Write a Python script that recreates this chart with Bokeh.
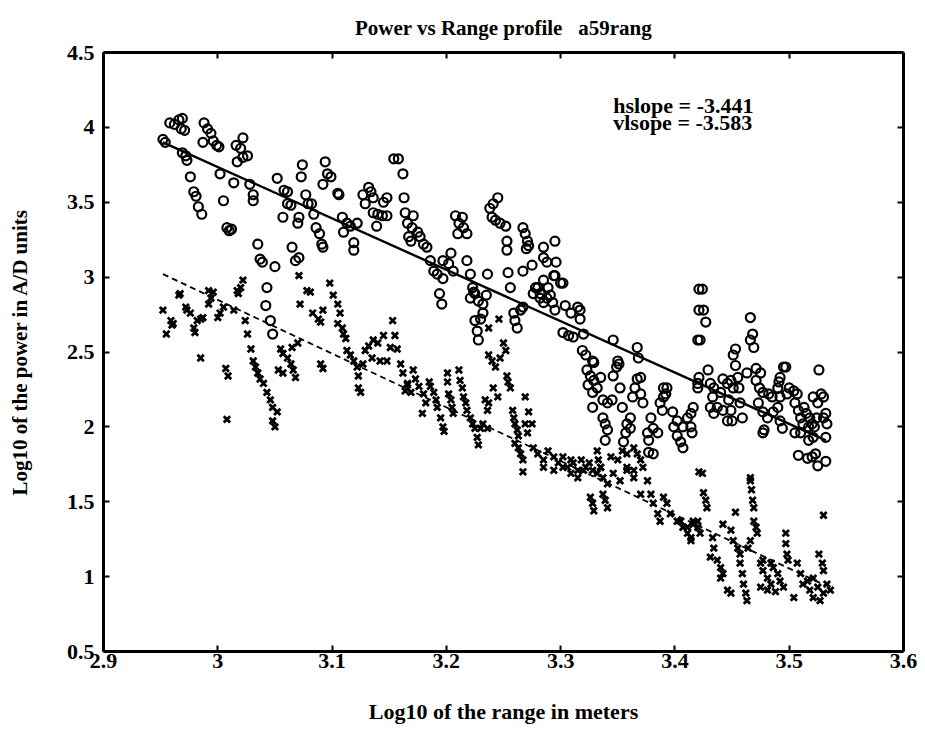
from bokeh.plotting import figure
from bokeh.models import Range1d, FixedTicker, LinearAxis, Label
from bokeh.embed import file_html
from bokeh.resources import INLINE

# ---------------- data ----------------
x_ticks = [2.9, 3.0, 3.1, 3.2, 3.3, 3.4, 3.5, 3.6]
x_tick_labels = ["2.9", "3", "3.1", "3.2", "3.3", "3.4", "3.5", "3.6"]
y_ticks = [0.5, 1.0, 1.5, 2.0, 2.5, 3.0, 3.5, 4.0, 4.5]
y_tick_labels = ["0.5", "1", "1.5", "2", "2.5", "3", "3.5", "4", "4.5"]

# horizontal-polarisation power (circles)
h_points = [
    (2.952, 3.92), (2.954, 3.90), (2.958, 4.03), (2.962, 4.02), (2.966, 4.05), (2.969, 4.06), (2.971, 3.98), (2.968, 3.99),
    (2.969, 3.83), (2.972, 3.81), (2.973, 3.78), (2.976, 3.67), (2.979, 3.57), (2.981, 3.54), (2.983, 3.47), (2.986, 3.42),
    (2.988, 4.03), (2.991, 3.99), (2.994, 3.96), (2.987, 3.90), (2.996, 3.91), (2.999, 3.88), (3.001, 3.87), (3.002, 3.69),
    (3.005, 3.51), (3.008, 3.33), (3.010, 3.31), (3.012, 3.32), (3.014, 3.63), (3.016, 3.88), (3.020, 3.86), (3.022, 3.93),
    (3.017, 3.77), (3.022, 3.80), (3.026, 3.81), (3.028, 3.62), (3.031, 3.55), (3.031, 3.51), (3.035, 3.22), (3.037, 3.12),
    (3.039, 3.10), (3.050, 3.07), (3.052, 3.66), (3.057, 3.40), (3.058, 3.58), (3.061, 3.57), (3.061, 3.49), (3.064, 3.48),
    (3.065, 3.20), (3.068, 3.11), (3.071, 3.13), (3.073, 3.67), (3.074, 3.75), (3.071, 3.40), (3.070, 3.36), (3.077, 3.55),
    (3.079, 3.49), (3.082, 3.49), (3.084, 3.42), (3.086, 3.33), (3.089, 3.29), (3.091, 3.22), (3.092, 3.20), (3.094, 3.77),
    (3.096, 3.69), (3.099, 3.67), (3.092, 3.62), (3.105, 3.56), (3.106, 3.55), (3.109, 3.40), (3.113, 3.36), (3.110, 3.30),
    (3.116, 3.34), (3.119, 3.23), (3.119, 3.18), (3.122, 3.36), (3.127, 3.55), (3.129, 3.49), (3.132, 3.60), (3.134, 3.57),
    (3.136, 3.53), (3.136, 3.43), (3.140, 3.42), (3.144, 3.41), (3.148, 3.41), (3.139, 3.34), (3.145, 3.50), (3.148, 3.53),
    (3.154, 3.79), (3.158, 3.79), (3.162, 3.69), (3.163, 3.53), (3.164, 3.43), (3.166, 3.36), (3.167, 3.27),
    (3.043, 2.93), (3.042, 2.81), (3.046, 2.71), (3.048, 2.62),
    (3.171, 3.41), (3.170, 3.33), (3.169, 3.24), (3.175, 3.30), (3.177, 3.27), (3.180, 3.22), (3.183, 3.20),
    (3.186, 3.11), (3.189, 3.04), (3.192, 3.02), (3.197, 2.99), (3.197, 3.11), (3.202, 3.09), (3.204, 3.16), (3.206, 3.04),
    (3.208, 3.41), (3.211, 3.36), (3.214, 3.40), (3.215, 3.33), (3.210, 3.29), (3.218, 3.29), (3.218, 3.11),
    (3.221, 3.02), (3.223, 2.93), (3.224, 2.90), (3.221, 2.86), (3.236, 3.02), (3.235, 2.88),
    (3.238, 3.46), (3.241, 3.49), (3.245, 3.53), (3.240, 3.40), (3.243, 3.38), (3.247, 3.36), (3.252, 3.34),
    (3.253, 3.24), (3.253, 3.18), (3.254, 3.03), (3.256, 2.93),
    (3.267, 3.33), (3.269, 3.29), (3.271, 3.24), (3.272, 3.21), (3.270, 3.19), (3.267, 3.04), (3.275, 3.08),
    (3.278, 2.93), (3.282, 2.89), (3.285, 2.98), (3.289, 2.93), (3.288, 2.86),
    (3.285, 3.20), (3.285, 3.13), (3.288, 3.10), (3.295, 3.24), (3.296, 3.10), (3.294, 3.01), (3.302, 2.96),
    (3.194, 2.89), (3.196, 2.82),
    (3.225, 2.89), (3.228, 2.84), (3.232, 2.82), (3.232, 2.76), (3.230, 2.72), (3.225, 2.71), (3.227, 2.64), (3.228, 2.58),
    (3.259, 2.76), (3.260, 2.71), (3.262, 2.66), (3.265, 2.78), (3.267, 2.80),
    (3.276, 2.89), (3.280, 2.93), (3.282, 2.86), (3.285, 2.83), (3.291, 2.88), (3.293, 2.83), (3.295, 2.78),
    (3.295, 3.01), (3.300, 2.96),
    (3.304, 2.81), (3.309, 2.76), (3.315, 2.80), (3.317, 2.78), (3.317, 2.72), (3.302, 2.63), (3.307, 2.61), (3.311, 2.60), (3.320, 2.62),
    (3.319, 2.51), (3.322, 2.48), (3.328, 2.44), (3.329, 2.43),
    (3.323, 2.38), (3.326, 2.34), (3.329, 2.31), (3.332, 2.26), (3.335, 2.33), (3.324, 2.28), (3.328, 2.23),
    (3.328, 2.13), (3.337, 2.18), (3.341, 2.16), (3.345, 2.18),
    (3.337, 2.06), (3.339, 2.02), (3.341, 1.98), (3.339, 1.91),
    (3.346, 2.58), (3.350, 2.44), (3.349, 2.40), (3.346, 2.34), (3.351, 2.42), (3.352, 2.26), (3.354, 2.13),
    (3.361, 2.06), (3.358, 2.02), (3.357, 1.96), (3.355, 1.90), (3.361, 1.99),
    (3.367, 2.53), (3.368, 2.46), (3.367, 2.32), (3.365, 2.26), (3.363, 2.20), (3.370, 2.33), (3.370, 2.22), (3.372, 2.16),
    (3.379, 2.06), (3.381, 1.99), (3.376, 1.96), (3.377, 1.91), (3.385, 1.96), (3.381, 1.82), (3.377, 1.83),
    (3.390, 2.26), (3.392, 2.22), (3.393, 2.26), (3.387, 2.16), (3.389, 2.11), (3.390, 2.20),
    (3.398, 2.10), (3.402, 2.04), (3.399, 2.00), (3.402, 1.94), (3.405, 1.90), (3.407, 1.86), (3.411, 2.06), (3.414, 2.09),
    (3.416, 2.13), (3.414, 2.00), (3.415, 1.96), (3.407, 2.00),
    (3.420, 2.29), (3.421, 2.92), (3.421, 2.78), (3.420, 2.58),
    (3.424, 2.92), (3.425, 2.78), (3.427, 2.70), (3.422, 2.58), (3.421, 2.33), (3.420, 2.26), (3.429, 2.38),
    (3.431, 2.29), (3.434, 2.26), (3.433, 2.20), (3.431, 2.13), (3.434, 2.09), (3.437, 2.13), (3.440, 2.23), (3.442, 2.32),
    (3.446, 2.29), (3.449, 2.31), (3.451, 2.26), (3.447, 2.18), (3.449, 2.11), (3.446, 2.04), (3.450, 2.04), (3.442, 2.11),
    (3.453, 2.52), (3.451, 2.48), (3.453, 2.41),
    (3.456, 2.26), (3.459, 2.06), (3.457, 2.16), (3.455, 2.33), (3.463, 2.36), (3.466, 2.73), (3.468, 2.62), (3.466, 2.58),
    (3.469, 2.53), (3.471, 2.39), (3.475, 2.36), (3.471, 2.31), (3.474, 2.26), (3.477, 2.23), (3.473, 2.16), (3.477, 2.10),
    (3.481, 2.06), (3.478, 1.98), (3.477, 1.96),
    (3.482, 2.22), (3.485, 2.20), (3.490, 2.26), (3.491, 2.30), (3.492, 2.33), (3.495, 2.40), (3.497, 2.40), (3.492, 2.20),
    (3.490, 2.13), (3.492, 2.04), (3.486, 2.10), (3.494, 1.99),
    (3.498, 2.22), (3.500, 2.26), (3.504, 2.24), (3.507, 2.22), (3.505, 2.16), (3.508, 2.11), (3.510, 2.06), (3.512, 2.02),
    (3.513, 2.13), (3.515, 2.09), (3.518, 2.06), (3.520, 2.02), (3.517, 2.00), (3.505, 1.96), (3.510, 1.96), (3.517, 1.91),
    (3.521, 1.93), (3.522, 2.00), (3.524, 2.06), (3.525, 2.16), (3.521, 2.20), (3.528, 2.22), (3.530, 2.20), (3.532, 2.09),
    (3.533, 2.02), (3.532, 1.93), (3.530, 2.06),
    (3.508, 1.81), (3.516, 1.79), (3.520, 1.80), (3.523, 1.82), (3.525, 1.74), (3.532, 1.77), (3.526, 2.38),
]

# vertical-polarisation power (x marks)
v_points = [
    (2.952, 2.78), (2.955, 2.62), (2.959, 2.71), (2.961, 2.69), (2.960, 2.68), (2.966, 2.88), (2.967, 2.89),
    (2.972, 2.80), (2.973, 2.78), (2.976, 2.76), (2.979, 2.66), (2.980, 2.63), (2.982, 2.71), (2.985, 2.72), (2.987, 2.73),
    (2.985, 2.46), (2.992, 2.91), (2.994, 2.86), (2.992, 2.82), (2.996, 2.90), (3.000, 2.73), (3.002, 2.76), (3.005, 2.80),
    (3.007, 2.39), (3.009, 2.34), (3.008, 2.05),
    (3.014, 2.78), (3.017, 2.91), (3.018, 2.89), (3.022, 2.98), (3.020, 2.93), (3.024, 2.71), (3.026, 2.62),
    (3.029, 2.52), (3.031, 2.44), (3.033, 2.40), (3.035, 2.36), (3.037, 2.32), (3.040, 2.29), (3.043, 2.23), (3.046, 2.18),
    (3.048, 2.13), (3.048, 2.04), (3.050, 2.00), (3.052, 2.10),
    (3.055, 2.52), (3.057, 2.49), (3.061, 2.46), (3.064, 2.42), (3.066, 2.38), (3.068, 2.33), (3.065, 2.53), (3.070, 2.56),
    (3.053, 2.38), (3.057, 2.36),
    (3.071, 3.01), (3.072, 2.82), (3.078, 2.91), (3.081, 2.90), (3.083, 2.76), (3.088, 2.72), (3.090, 2.70), (3.092, 2.78),
    (3.090, 2.42), (3.092, 2.39),
    (3.098, 2.96), (3.101, 2.88), (3.105, 2.82), (3.107, 2.76), (3.105, 2.69), (3.109, 2.66), (3.110, 2.62), (3.112, 2.59),
    (3.113, 2.51), (3.116, 2.48), (3.119, 2.44), (3.122, 2.40), (3.123, 2.34), (3.123, 2.26), (3.125, 2.23),
    (3.127, 2.42), (3.129, 2.51), (3.132, 2.54), (3.136, 2.58), (3.140, 2.56), (3.135, 2.46), (3.142, 2.44), (3.145, 2.61),
    (3.148, 2.44), (3.151, 2.53), (3.153, 2.71), (3.155, 2.61), (3.157, 2.52),
    (3.160, 2.42), (3.162, 2.36), (3.166, 2.29), (3.164, 2.24),
    (3.166, 2.28), (3.169, 2.23), (3.171, 2.38), (3.173, 2.32), (3.176, 2.27), (3.180, 2.22), (3.182, 2.16), (3.179, 2.09),
    (3.185, 2.30), (3.186, 2.27), (3.189, 2.23), (3.191, 2.18), (3.192, 2.13), (3.195, 2.06), (3.197, 2.00), (3.198, 1.97),
    (3.201, 2.36), (3.201, 2.30), (3.202, 2.22), (3.204, 2.18), (3.205, 2.13), (3.206, 2.09),
    (3.211, 2.38), (3.212, 2.31), (3.214, 2.26), (3.215, 2.20), (3.217, 2.16), (3.218, 2.11), (3.221, 2.06), (3.223, 2.02),
    (3.225, 1.99), (3.227, 1.93), (3.228, 1.88), (3.230, 1.99), (3.232, 2.02), (3.236, 1.99),
    (3.234, 2.18), (3.237, 2.16), (3.241, 2.26), (3.245, 2.20), (3.236, 2.11),
    (3.237, 2.48), (3.240, 2.44), (3.243, 2.40), (3.247, 2.46), (3.250, 2.56), (3.252, 2.51), (3.246, 2.72), (3.237, 2.66),
    (3.253, 2.34), (3.254, 2.30), (3.256, 2.26),
    (3.258, 2.11), (3.259, 2.06), (3.260, 2.02), (3.262, 1.98), (3.263, 1.94), (3.260, 1.89),
    (3.269, 2.20), (3.272, 2.10), (3.269, 2.02), (3.271, 1.96), (3.275, 2.02), (3.267, 1.70),
    (3.263, 1.86), (3.265, 1.82), (3.267, 1.78),
    (3.276, 1.86), (3.280, 1.82), (3.285, 1.78), (3.289, 1.84), (3.294, 1.80), (3.298, 1.76), (3.302, 1.80), (3.306, 1.73),
    (3.309, 1.78), (3.311, 1.76), (3.315, 1.71), (3.318, 1.78), (3.322, 1.73), (3.325, 1.76), (3.328, 1.71),
    (3.332, 1.84), (3.333, 1.78), (3.335, 1.73), (3.332, 1.69),
    (3.344, 1.80), (3.350, 1.78), (3.354, 1.84), (3.358, 1.82), (3.364, 1.86), (3.367, 1.82), (3.370, 1.78), (3.358, 1.73),
    (3.364, 1.71), (3.421, 1.70),
    (3.285, 1.73), (3.294, 1.71), (3.302, 1.73), (3.309, 1.69), (3.315, 1.66), (3.320, 1.71),
    (3.326, 1.53), (3.328, 1.49), (3.329, 1.44), (3.337, 1.55), (3.339, 1.51), (3.341, 1.46),
    (3.335, 1.73), (3.337, 1.66), (3.341, 1.62), (3.346, 1.69), (3.352, 1.64), (3.358, 1.71), (3.364, 1.66), (3.370, 1.55),
    (3.372, 1.73), (3.376, 1.64), (3.379, 1.55), (3.381, 1.49), (3.385, 1.42), (3.387, 1.37), (3.390, 1.53), (3.393, 1.49),
    (3.396, 1.42), (3.402, 1.37), (3.407, 1.33), (3.411, 1.29), (3.414, 1.24), (3.416, 1.37), (3.420, 1.33),
    (3.405, 1.37), (3.411, 1.33), (3.416, 1.35), (3.422, 1.29), (3.414, 1.26), (3.420, 1.37),
    (3.424, 1.69), (3.425, 1.56), (3.427, 1.51), (3.428, 1.46),
    (3.433, 1.26), (3.434, 1.19), (3.431, 1.13), (3.437, 1.11), (3.440, 1.06), (3.442, 1.02), (3.440, 0.99), (3.446, 0.91),
    (3.449, 0.89),
    (3.442, 1.35), (3.449, 1.31), (3.451, 1.24), (3.455, 1.19), (3.453, 1.43), (3.457, 1.15),
    (3.457, 1.09), (3.459, 1.02), (3.460, 0.95), (3.462, 0.89), (3.463, 0.84), (3.464, 1.19), (3.466, 1.24),
    (3.466, 1.64), (3.467, 1.58), (3.468, 1.51), (3.469, 1.46), (3.469, 1.37), (3.471, 1.33), (3.472, 1.29), (3.466, 1.66),
    (3.475, 1.09), (3.477, 1.04), (3.481, 0.99), (3.484, 0.95), (3.486, 1.06), (3.490, 1.02), (3.492, 0.97), (3.495, 0.93),
    (3.475, 0.93), (3.481, 0.91), (3.488, 0.90), (3.477, 1.11), (3.484, 1.09),
    (3.497, 1.29), (3.497, 1.22), (3.498, 1.15), (3.499, 1.11),
    (3.504, 0.86), (3.507, 1.09), (3.510, 1.02), (3.512, 0.95), (3.516, 0.97), (3.518, 0.91), (3.521, 0.86), (3.525, 0.93),
    (3.527, 0.84), (3.530, 0.89), (3.533, 0.95), (3.536, 0.91), (3.521, 0.99),
    (3.526, 1.15), (3.529, 1.09), (3.530, 1.04), (3.530, 1.41),
]

h_x = [pt[0] for pt in h_points]
h_y = [pt[1] for pt in h_points]
v_x = [pt[0] for pt in v_points]
v_y = [pt[1] for pt in v_points]

# fitted lines (end points)
fit_x = [2.952, 3.532]
h_fit_y = [3.90, 1.91]
v_fit_y = [3.02, 0.94]

hslope_text = "hslope = -3.441"
vslope_text = "vlsope = -3.583"
title_text = "Power vs Range profile\u00a0\u00a0\u00a0a59rang"

FONT = "Liberation Serif"

p = figure(width=925, height=733, output_backend="svg", toolbar_location=None,
           x_range=Range1d(2.9, 3.6), y_range=Range1d(0.5, 4.5),
           min_border_left=103, min_border_right=22, min_border_top=52, min_border_bottom=82,
           background_fill_color="white", border_fill_color="white")
p.grid.visible = False
p.outline_line_color = None

p.title.text = title_text
p.title.align = "center"
p.title.text_font = FONT
p.title.text_font_size = "21px"
p.title.text_font_style = "bold"
p.title.text_color = "black"
p.title.standoff = 26

# data
p.scatter(h_x, h_y, marker="circle", size=9, fill_color=None, line_color="black", line_width=2.2)
p.scatter(v_x, v_y, marker="x", size=9, line_color="black", line_width=2.8)
p.line(fit_x, h_fit_y, line_color="black", line_width=2.4)
p.line(fit_x, v_fit_y, line_color="black", line_width=1.8, line_dash="6 4")

# axes
xt = FixedTicker(ticks=x_ticks)
yt = FixedTicker(ticks=y_ticks)
x_over = {t: l for t, l in zip(x_ticks, x_tick_labels)}
y_over = {t: l for t, l in zip(y_ticks, y_tick_labels)}

def style(ax, labels=True):
    ax.axis_line_width = 3
    ax.axis_line_color = "black"
    ax.major_tick_in = 6
    ax.major_tick_out = 0
    ax.minor_tick_line_color = None
    ax.major_tick_line_width = 2
    ax.major_tick_line_color = "black"
    if labels:
        ax.major_label_text_font = FONT
        ax.major_label_text_font_size = "22px"
        ax.major_label_text_font_style = "bold"
        ax.major_label_text_color = "black"
    else:
        ax.major_label_text_font_size = "0px"
        ax.major_label_text_color = None

xa = p.xaxis[0]
xa.ticker = xt
xa.major_label_overrides = x_over
style(xa)
xa.major_label_standoff = 2
xa.axis_label = "Log10 of the range in meters"
xa.axis_label_text_font = FONT
xa.axis_label_text_font_style = "bold"
xa.axis_label_text_font_size = "22px"
xa.axis_label_text_color = "black"
xa.axis_label_standoff = 28

ya = p.yaxis[0]
ya.ticker = yt
ya.major_label_overrides = y_over
style(ya)
ya.major_label_standoff = 9
ya.axis_label = "Log10 of the power in A/D units"
ya.axis_label_text_font = FONT
ya.axis_label_text_font_style = "bold"
ya.axis_label_text_font_size = "21px"
ya.axis_label_text_color = "black"
ya.axis_label_standoff = 32

top = LinearAxis(ticker=FixedTicker(ticks=x_ticks))
style(top, labels=False)
p.add_layout(top, "above")
right = LinearAxis(ticker=FixedTicker(ticks=y_ticks))
style(right, labels=False)
p.add_layout(right, "right")

# slope annotations
p.add_layout(Label(x=3.346, y=4.146, text=hslope_text, text_font=FONT, text_font_size="22px",
                   text_font_style="bold", text_align="left", text_baseline="alphabetic", text_color="black"))
p.add_layout(Label(x=3.346, y=4.033, text=vslope_text, text_font=FONT, text_font_size="22px",
                   text_font_style="bold", text_align="left", text_baseline="alphabetic", text_color="black"))

open("out.html", "w").write(file_html(p, INLINE))
